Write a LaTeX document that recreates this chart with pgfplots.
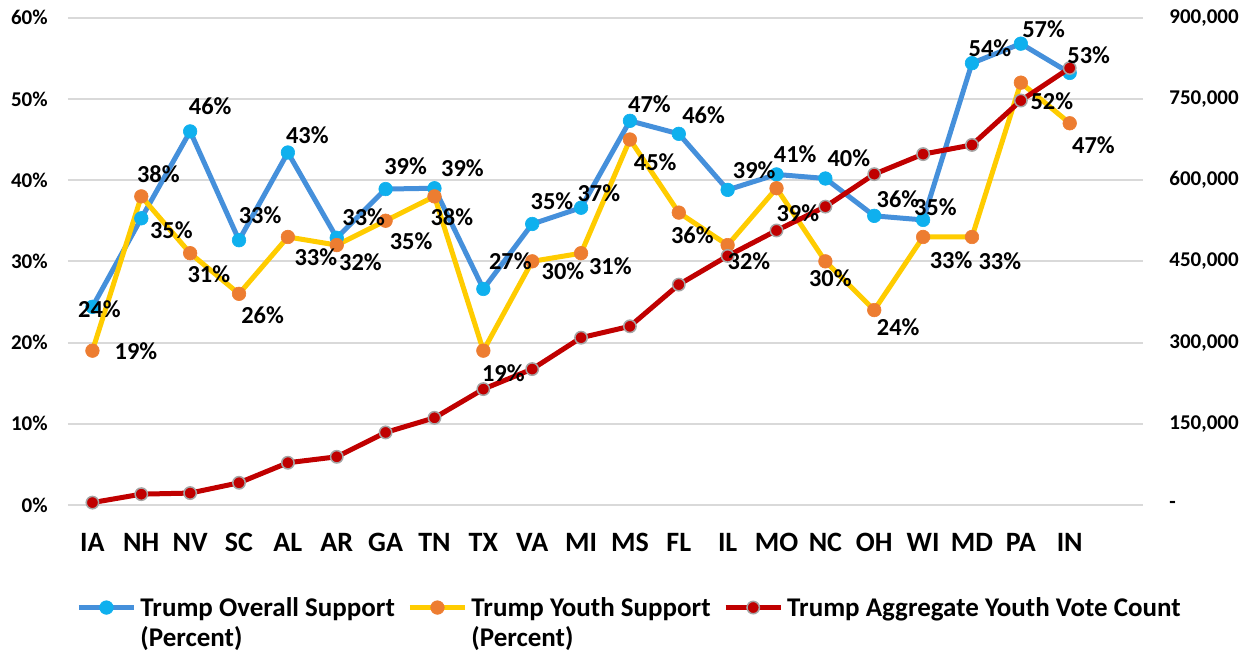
\documentclass[border=0pt]{standalone}
\usepackage{pgfplots}
\pgfplotsset{compat=1.18}
\usepackage{pgfplotstable}
\usepackage{fontspec}
\setmainfont{Carlito}

\definecolor{gridgrey}{HTML}{D9D9D9}
\definecolor{bluel}{HTML}{4590DB}
\definecolor{bluem}{HTML}{0FB0EE}
\definecolor{yell}{HTML}{FFCC00}
\definecolor{orgm}{HTML}{ED7D31}
\definecolor{redl}{HTML}{C00000}
\definecolor{redb}{HTML}{A5A5A5}

% overall support (percent), label offsets dx dy in pt
\pgfplotstableread{
x y dx dy
0 24.4 3.5 -1
1 35.3 15 -5.75
2 46.0 10 12.5
3 32.6 10.5 12.5
4 43.4 9.75 8.85
5 32.9 13.5 10.5
6 38.9 10 11.5
7 39.0 14 10
8 26.6 13.5 13.85
9 34.6 9.85 11.35
10 36.6 8.85 7.35
11 47.3 9.75 8.15
12 45.7 12.4 9.5
13 38.8 13.25 9.75
14 40.7 9.35 10.25
15 40.2 11.75 10
16 35.6 11.85 8.35
17 35.1 6.1 6.25
18 54.4 9 7.25
19 56.8 11.35 7.4
20 53.2 9.5 8.75
}\overall

% youth support (percent)
\pgfplotstableread{
x y dx dy
0 19 21.75 -0.5
1 38 8.5 11.25
2 31 9.35 -10.5
3 26 11.75 -10.85
4 33 14 -10
5 32 11.85 -8.75
6 35 12.75 -10
7 38 8.65 -10.5
8 19 10 -11.5
9 30 15.35 -5
10 31 14.65 -6.5
11 45 12.65 -11.4
12 36 6.75 -11.4
13 32 10.65 -7.9
14 39 10.65 -12.35
15 30 2.5 -8.5
16 24 12 -8.5
17 33 14 -11.75
18 33 13.9 -12
19 52 15.5 -9.25
20 47 11.9 -10.85
}\youth

% aggregate youth vote count
\pgfplotstableread{
x y
0 4400
1 20000
2 22000
3 41000
4 78000
5 89000
6 134000
7 161000
8 214000
9 251000
10 309000
11 330000
12 407000
13 460000
14 507000
15 551000
16 611000
17 648000
18 665000
19 747000
20 807000
}\votes

\pgfplotsset{
  base/.style={
    at={(0pt,0pt)}, anchor=south west, scale only axis,
    width=537.5pt, height=243.65pt,
    xmin=-0.5, xmax=21.5,
    axis line style={draw=none}, major tick length=0pt, minor tick length=0pt,
    clip=false,
  },
  bluestyle/.style={color=bluel, line width=2.5pt, mark=*, mark size=3.4pt,
    mark options={draw=bluem, fill=bluem, line width=0.3pt}},
  yelstyle/.style={color=yell, line width=2.5pt, mark=*, mark size=3.4pt,
    mark options={draw=orgm, fill=orgm, line width=0.3pt}},
  redstyle/.style={color=redl, line width=2.5pt, mark=*, mark size=3.1pt,
    mark options={draw=redb, fill=redl, line width=0.75pt}},
  lbl/.style={draw=none, mark=none, forget plot,
    point meta=y,
    visualization depends on={\thisrow{dx}\as\lblx},
    visualization depends on={\thisrow{dy}\as\lbly},
    nodes near coords={\pgfmathprintnumber[fixed,precision=0,assume math mode=true]{\pgfplotspointmeta}\%},
    nodes near coords style={text=black, anchor=center, inner sep=0pt,
      xshift=\lblx pt, yshift=\lbly pt, font=\fontsize{12.2}{14}\selectfont\bfseries}},
}

\begin{document}
\begin{tikzpicture}
\begin{axis}[base,
  ymin=0, ymax=60, ytick={0,10,20,30,40,50,60},
  yticklabels={0\%,10\%,20\%,30\%,40\%,50\%,60\%},
  ymajorgrids, grid style={gridgrey, line width=1pt},
  xtick={0,...,20},
  xticklabels={IA,NH,NV,SC,AL,AR,GA,TN,TX,VA,MI,MS,FL,IL,MO,NC,OH,WI,MD,PA,IN},
  xticklabel style={font=\fontsize{14}{16}\selectfont\bfseries, anchor=base, yshift=-23.5pt},
  yticklabel style={font=\fontsize{10.5}{12}\selectfont\bfseries, anchor=east, inner sep=0pt, xshift=-10pt},
  legend columns=3,
  legend cell align={left},
  legend style={at={(axis description cs:0.0075,-0.184)}, anchor=north west,
    draw=none, fill=none, inner sep=0pt,
    font=\fontsize{13.5}{15}\selectfont\bfseries,
    cells={anchor=base west},
    nodes={inner xsep=2pt, inner ysep=0pt},
    /tikz/every even column/.append style={column sep=4.3pt}},
  legend image code/.code={
    \draw[#1, mark repeat=2, mark phase=2] plot coordinates {(0pt,4.25pt) (13.75pt,4.25pt) (27.5pt,4.25pt)};
  },
]
\addplot[bluestyle] table[x=x, y=y] {\overall};
\addlegendentry{\begin{tabular}[t]{@{}l@{}}Trump Overall Support\\(Percent)\end{tabular}}
\addplot[yelstyle] table[x=x, y=y] {\youth};
\addlegendentry{\begin{tabular}[t]{@{}l@{}}Trump Youth Support\\(Percent)\end{tabular}}
\addlegendimage{redstyle}
\addlegendentry{Trump Aggregate Youth Vote Count}
\end{axis}

\begin{axis}[base,
  ymin=0, ymax=900000, axis y line*=right, axis x line=none,
  scaled y ticks=false,
  ytick={0,150000,300000,450000,600000,750000,900000},
  yticklabels={{-},{150,000},{300,000},{450,000},{600,000},{750,000},{900,000}},
  yticklabel style={font=\fontsize{10.5}{12}\selectfont\bfseries, anchor=west, inner sep=0pt, xshift=13pt},
]
\addplot[redstyle] table[x=x, y=y] {\votes};
\end{axis}

% value labels on top of every line
\begin{axis}[base, ymin=0, ymax=60, hide axis]
\addplot[lbl] table[x=x, y=y] {\overall};
\addplot[lbl] table[x=x, y=y] {\youth};
\end{axis}

\pgfresetboundingbox
\useasboundingbox (-34pt,-75.5pt) rectangle (591pt,252.5pt);
\end{tikzpicture}
\end{document}
